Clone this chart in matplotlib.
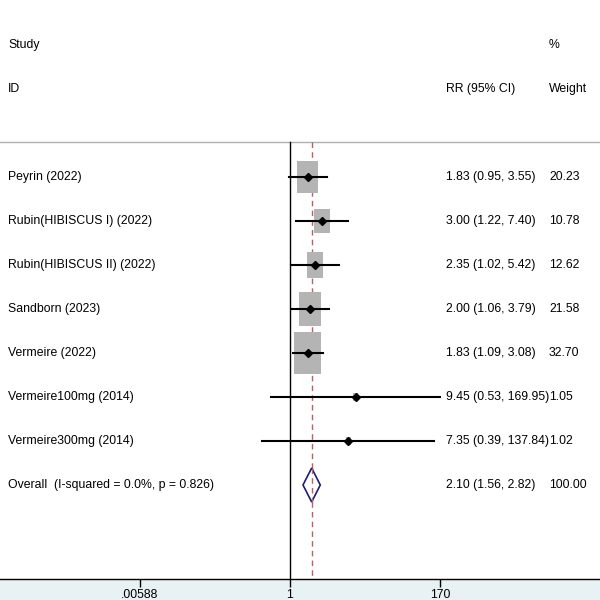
import numpy as np
import matplotlib
matplotlib.use('Agg')
import matplotlib.pyplot as plt
from matplotlib import font_manager
from matplotlib.patches import Rectangle, Polygon
import matplotlib.transforms as mtransforms

# study data
studies = ['Peyrin (2022)', 'Rubin(HIBISCUS I) (2022)', 'Rubin(HIBISCUS II) (2022)',
           'Sandborn (2023)', 'Vermeire (2022)', 'Vermeire100mg (2014)', 'Vermeire300mg (2014)']
rr = [1.83, 3.00, 2.35, 2.00, 1.83, 9.45, 7.35]
lo = [0.95, 1.22, 1.02, 1.06, 1.09, 0.53, 0.39]
hi = [3.55, 7.40, 5.42, 3.79, 3.08, 169.95, 137.84]
weights = [20.23, 10.78, 12.62, 21.58, 32.70, 1.05, 1.02]

overall_label = 'Overall  (I-squared = 0.0%, p = 0.826)'
overall_rr, overall_lo, overall_hi = 2.10, 1.56, 2.82

xticks = [0.00588, 1, 170]
xticklabels = ['.00588', '1', '170']

# pick a narrow font if we have one
names = {f.name for f in font_manager.fontManager.ttflist}
family = 'Liberation Sans'
for cand in ['Liberation Sans Narrow', 'Liberation Sans']:
    if cand in names:
        family = cand
        break
plt.rcParams['font.family'] = [family, 'DejaVu Sans']
fs = 8.8 if family == 'Liberation Sans' else 10.5

W, H = 600, 600
PX_DEC = 67.25     # pixels per decade
X1 = 290           # pixel of RR = 1
AX_BOTTOM = 579

fig = plt.figure(figsize=(6, 6), dpi=100, facecolor='#e8f1f4')
ax = fig.add_axes([0, (H - AX_BOTTOM) / H, 1, AX_BOTTOM / H])
ax.set_facecolor('white')
ax.set_xscale('log')
ax.set_xlim(10 ** (-X1 / PX_DEC), 10 ** ((W - X1) / PX_DEC))
ax.set_ylim(AX_BOTTOM, 0)

for s in ['top', 'right', 'left']:
    ax.spines[s].set_visible(False)
ax.spines['bottom'].set_linewidth(1.0)
ax.set_yticks([])
ax.set_xticks(xticks)
ax.set_xticklabels(xticklabels)
ax.minorticks_off()
ax.tick_params(axis='x', length=6, width=1, pad=1.5, labelsize=fs)

tr = mtransforms.blended_transform_factory(ax.transAxes, ax.transData)

row0 = 45
step = 44
rows = [row0 + step * (i + 3) for i in range(len(studies))]
row_overall = row0 + step * (len(studies) + 3)
top_line = 142

# headers
ax.text(8 / W, row0, 'Study', transform=tr, va='center', fontsize=fs)
ax.text(8 / W, row0 + step, 'ID', transform=tr, va='center', fontsize=fs)
ax.text(549 / W, row0, '%', transform=tr, va='center', fontsize=fs)
ax.text(549 / W, row0 + step, 'Weight', transform=tr, va='center', fontsize=fs)
ax.text(446 / W, row0 + step, 'RR (95% CI)', transform=tr, va='center', fontsize=fs)

ax.axhline(top_line, color='#b0b0b0', lw=1.0)
ax.plot([1, 1], [top_line, AX_BOTTOM], color='black', lw=1.0)
ax.plot([overall_rr, overall_rr], [top_line, AX_BOTTOM], color='#b8606a',
        lw=1.0, dashes=(4, 3))

for i, name in enumerate(studies):
    y = rows[i]
    wpx = 4.75 * np.sqrt(weights[i])
    hpx = 1.52 * wpx
    hd = wpx / 2 / PX_DEC
    ax.add_patch(Rectangle((rr[i] * 10 ** (-hd), y - hpx / 2),
                           rr[i] * 10 ** hd - rr[i] * 10 ** (-hd), hpx,
                           facecolor='#b4b4b4', edgecolor='none', zorder=2))
    ax.plot([lo[i], hi[i]], [y, y], color='black', lw=1.5, zorder=3)
    ax.plot(rr[i], y, marker='D', color='black', ms=4, zorder=4)
    ax.text(8 / W, y, name, transform=tr, va='center', fontsize=fs)
    ax.text(446 / W, y, f'{rr[i]:.2f} ({lo[i]:.2f}, {hi[i]:.2f})',
            transform=tr, va='center', fontsize=fs)
    ax.text(549 / W, y, f'{weights[i]:.2f}', transform=tr, va='center', fontsize=fs)

dh = 17
ax.add_patch(Polygon([(overall_lo, row_overall), (overall_rr, row_overall - dh),
                      (overall_hi, row_overall), (overall_rr, row_overall + dh)],
                     closed=True, facecolor='white', edgecolor='#1f1f6b', lw=1.2, zorder=3))
ax.plot([overall_rr, overall_rr], [row_overall - dh, row_overall + dh],
        color='#b8606a', lw=1.0, dashes=(4, 3), zorder=4)
ax.text(8 / W, row_overall, overall_label, transform=tr, va='center', fontsize=fs)
ax.text(446 / W, row_overall, f'{overall_rr:.2f} ({overall_lo:.2f}, {overall_hi:.2f})',
        transform=tr, va='center', fontsize=fs)
ax.text(549 / W, row_overall, '100.00', transform=tr, va='center', fontsize=fs)

fig.savefig('out.png', dpi=100, facecolor=fig.get_facecolor())
